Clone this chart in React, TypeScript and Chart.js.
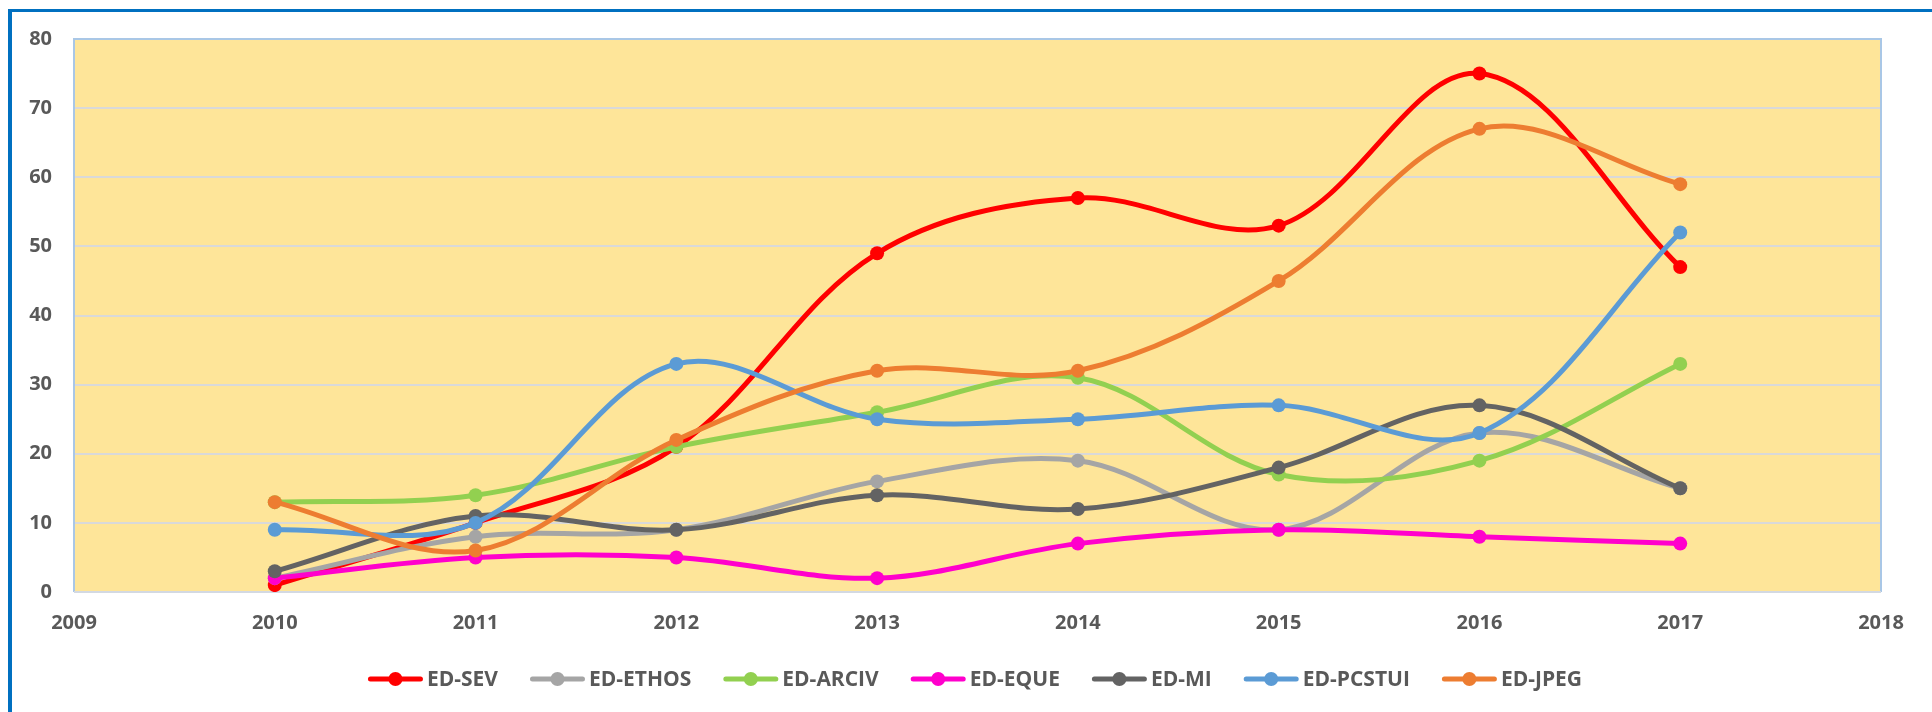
import React, { useEffect, useRef } from "react";
import { Chart, registerables } from "chart.js";

Chart.register(...registerables);

const years = [2010, 2011, 2012, 2013, 2014, 2015, 2016, 2017];
const seriesNames = ["ED-SEV", "ED-ETHOS", "ED-ARCIV", "ED-EQUE", "ED-MI", "ED-PCSTUI", "ED-JPEG"];
const sevValues = [1, 10, 21, 49, 57, 53, 75, 47];
const ethosValues = [2, 8, 9, 16, 19, 9, 23, 15];
const arcivValues = [13, 14, 21, 26, 31, 17, 19, 33];
const equeValues = [2, 5, 5, 2, 7, 9, 8, 7];
const miValues = [3, 11, 9, 14, 12, 18, 27, 15];
const pcstuiValues = [9, 10, 33, 25, 25, 27, 23, 52];
const jpegValues = [13, 6, 22, 32, 32, 45, 67, 59];
const seriesColors = ["#FF0000", "#A5A5A5", "#92D050", "#FF00CC", "#636363", "#5B9BD5", "#ED7D31"];
const xTickMin = 2009;
const xTickMax = 2018;
const yTickMin = 0;
const yTickMax = 80;
const yTickStep = 10;

const allValues = [sevValues, ethosValues, arcivValues, equeValues, miValues, pcstuiValues, jpegValues];

const FONT = "'Open Sans', 'Liberation Sans', sans-serif";

const decorPlugin = {
  id: "decor",
  beforeDraw(chart: any) {
    const { ctx, chartArea } = chart;
    ctx.save();
    ctx.fillStyle = "#FFFFFF";
    ctx.fillRect(0, 0, chart.width, chart.height);
    ctx.fillStyle = "#0070C0";
    ctx.fillRect(8, 9, 4, chart.height - 9);
    ctx.fillRect(8, 9, chart.width - 8, 3);
    ctx.fillStyle = "#FEE599";
    ctx.fillRect(chartArea.left, chartArea.top, chartArea.right - chartArea.left, chartArea.bottom - chartArea.top);
    ctx.restore();
  },
  beforeDatasetsDraw(chart: any) {
    const { ctx, chartArea } = chart;
    ctx.save();
    ctx.lineWidth = 2;
    ctx.strokeStyle = "#A9C7E6";
    ctx.beginPath();
    ctx.moveTo(chartArea.left, chartArea.bottom);
    ctx.lineTo(chartArea.left, chartArea.top);
    ctx.lineTo(chartArea.right, chartArea.top);
    ctx.lineTo(chartArea.right, chartArea.bottom);
    ctx.stroke();
    ctx.strokeStyle = "#D3D9E2";
    ctx.beginPath();
    ctx.moveTo(chartArea.left, chartArea.bottom);
    ctx.lineTo(chartArea.right, chartArea.bottom);
    ctx.stroke();
    ctx.restore();
  },
  afterDraw(chart: any) {
    const { ctx } = chart;
    ctx.save();
    ctx.font = `bold 21px ${FONT}`;
    ctx.textBaseline = "middle";
    ctx.textAlign = "left";
    const lineLen = 55;
    const gapText = 4;
    const gapItem = 32;
    const datasets = chart.data.datasets;
    const widths = datasets.map((d: any) => ctx.measureText(d.label).width);
    let total = 0;
    widths.forEach((w: number) => (total += lineLen + gapText + w + gapItem));
    total -= gapItem;
    const centerX = 975;
    const y = 679;
    let x = centerX - total / 2;
    datasets.forEach((d: any, i: number) => {
      ctx.strokeStyle = d.borderColor;
      ctx.lineWidth = 5;
      ctx.lineCap = "round";
      ctx.beginPath();
      ctx.moveTo(x + 2.5, y);
      ctx.lineTo(x + lineLen - 2.5, y);
      ctx.stroke();
      ctx.fillStyle = d.borderColor;
      ctx.beginPath();
      ctx.arc(x + lineLen / 2, y, 7, 0, Math.PI * 2);
      ctx.fill();
      ctx.fillStyle = "#595959";
      ctx.fillText(d.label, x + lineLen + gapText, y + 1);
      x += lineLen + gapText + widths[i] + gapItem;
    });
    ctx.restore();
  },
};

export default function App() {
  const canvasRef = useRef<HTMLCanvasElement | null>(null);

  useEffect(() => {
    if (!canvasRef.current) return;
    const datasets = seriesNames.map((name, i) => ({
      label: name,
      data: years.map((yr, j) => ({ x: yr, y: allValues[i][j] })),
      borderColor: seriesColors[i],
      backgroundColor: seriesColors[i],
      pointBackgroundColor: seriesColors[i],
      pointBorderColor: seriesColors[i],
      borderWidth: 5,
      pointRadius: 7,
      pointBorderWidth: 0,
      tension: 0.35,
      fill: false,
      order: seriesNames.length - i,
    }));

    const chart = new Chart(canvasRef.current, {
      type: "line",
      data: { datasets },
      plugins: [decorPlugin],
      options: {
        responsive: false,
        devicePixelRatio: 1,
        animation: false,
        layout: { padding: { left: 0, top: 39, right: 51, bottom: 0 } },
        plugins: {
          legend: { display: false },
          tooltip: { enabled: false },
          title: { display: false },
        },
        scales: {
          x: {
            type: "linear",
            min: xTickMin,
            max: xTickMax,
            afterFit: (scale: any) => {
              scale.height = 120;
            },
            ticks: {
              stepSize: 1,
              padding: 19,
              color: "#595959",
              font: { family: FONT, size: 20, weight: "bold" },
              callback: (v: any) => String(v),
              maxRotation: 0,
            },
            grid: { display: false, drawTicks: false },
            border: { display: false },
          },
          y: {
            type: "linear",
            min: yTickMin,
            max: yTickMax,
            afterFit: (scale: any) => {
              scale.width = 74;
            },
            ticks: {
              stepSize: yTickStep,
              padding: 22,
              color: "#595959",
              font: { family: FONT, size: 20, weight: "bold" },
            },
            grid: { color: "#D9D9D9", lineWidth: 2, drawTicks: false },
            border: { display: false },
          },
        },
      },
    } as any);
    return () => chart.destroy();
  }, []);

  return (
    <div style={{ position: "fixed", left: 0, top: 0, width: 1932, height: 712, background: "#fff" }}>
      <canvas ref={canvasRef} width={1932} height={712} style={{ width: 1932, height: 712, display: "block" }} />
    </div>
  );
}
